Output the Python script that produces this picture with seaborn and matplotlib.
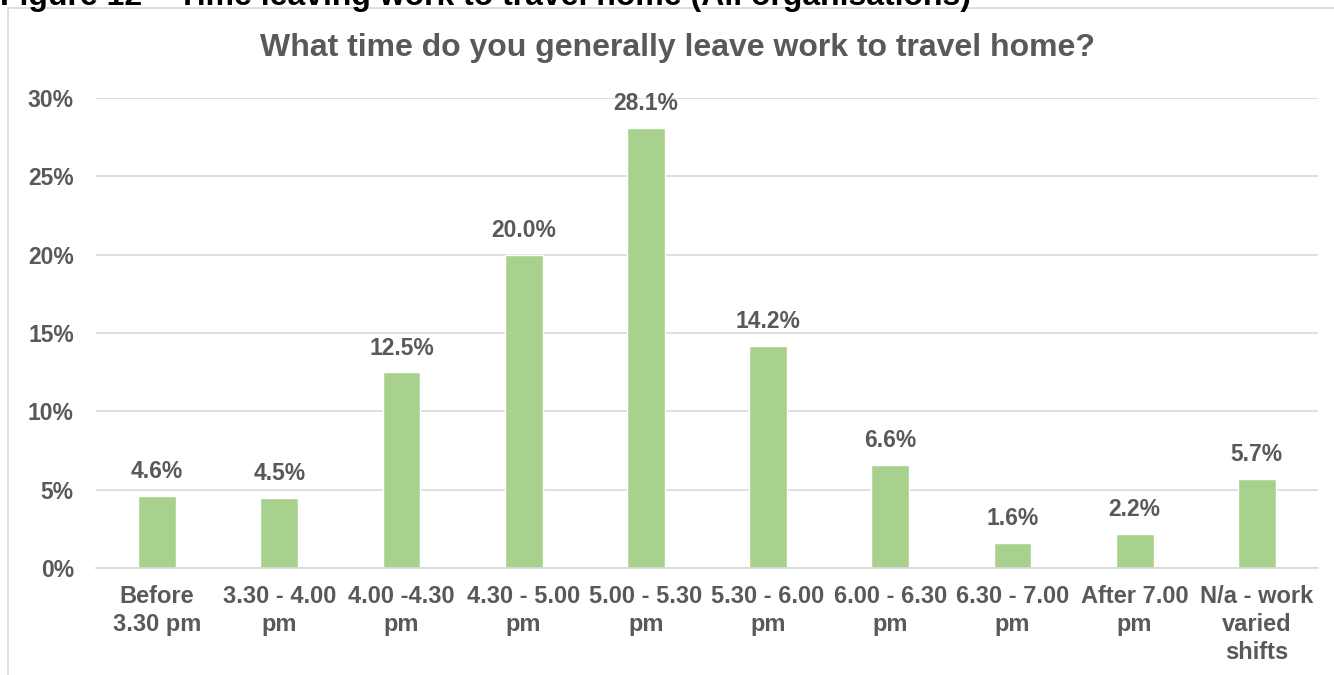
import matplotlib
matplotlib.use("Agg")
import matplotlib.pyplot as plt
import seaborn as sns
import pandas as pd
from matplotlib.patches import Rectangle

categories = [
    "Before\n3.30 pm", "3.30 - 4.00\npm", "4.00 -4.30\npm", "4.30 - 5.00\npm",
    "5.00 - 5.30\npm", "5.30 - 6.00\npm", "6.00 - 6.30\npm", "6.30 - 7.00\npm",
    "After 7.00\npm", "N/a - work\nvaried\nshifts",
]
shares = [4.6, 4.5, 12.5, 20.0, 28.1, 14.2, 6.6, 1.6, 2.2, 5.7]
y_ticks = [0, 5, 10, 15, 20, 25, 30]

title = "What time do you generally leave work to travel home?"
caption = "Figure 12 \u2013 Time leaving work to travel home (All organisations)"

BAR = "#A9D18E"
TEXT = "#595959"
GRID = "#D9D9D9"

sns.set_theme(style="white")
plt.rcParams["font.family"] = ["Liberation Sans", "DejaVu Sans"]
plt.rcParams["font.weight"] = "bold"

df = pd.DataFrame({"slot": categories, "share": shares})

fig = plt.figure(figsize=(13.34, 6.75), dpi=100)
fig.patch.set_facecolor("white")

# chart frame
fig.patches.append(Rectangle((8 / 1334, -0.1), 1.2, 1 - 8 / 675 + 0.1,
                             transform=fig.transFigure, fill=False,
                             edgecolor=GRID, linewidth=1.2))

ax = fig.add_axes([96 / 1334, 1 - 568 / 675, (1318 - 96) / 1334, (568 - 98) / 675])
sns.barplot(data=df, x="slot", y="share", color=BAR, saturation=1, width=0.31, ax=ax)

ax.set_ylim(0, 30)
ax.set_xlim(-0.5, len(categories) - 0.5)
ax.set_yticks(y_ticks)
ax.set_yticklabels([f"{t}%" for t in y_ticks])
ax.yaxis.grid(True, color=GRID, linewidth=1.2)
ax.set_axisbelow(True)
for s in ax.spines.values():
    s.set_visible(False)
ax.spines["bottom"].set_visible(True)
ax.spines["bottom"].set_color(GRID)
ax.spines["bottom"].set_linewidth(1.2)
ax.set_xlabel("")
ax.set_ylabel("")
ax.tick_params(axis="y", length=0, pad=16, labelsize=16.5, labelcolor=TEXT)
ax.tick_params(axis="x", length=0, pad=12, labelsize=17, labelcolor=TEXT)
for lbl in ax.get_xticklabels() + ax.get_yticklabels():
    lbl.set_fontweight("bold")
for lbl in ax.get_xticklabels():
    lbl.set_linespacing(1.3)
    lbl.set_verticalalignment("top")

for i, v in enumerate(shares):
    ax.annotate(f"{v:.1f}%", (i, v), xytext=(0, 9), textcoords="offset points",
                ha="center", va="bottom", fontsize=16.5, fontweight="bold", color=TEXT)

fig.text(677 / 1334, 1 - 48 / 675, title, ha="center", va="center",
         fontsize=23, fontweight="bold", color=TEXT)
fig.text(0, 1 - 5 / 675, caption, ha="left", va="baseline",
         fontsize=23, fontweight="bold", color="black")

fig.savefig("out.png", dpi=100)
